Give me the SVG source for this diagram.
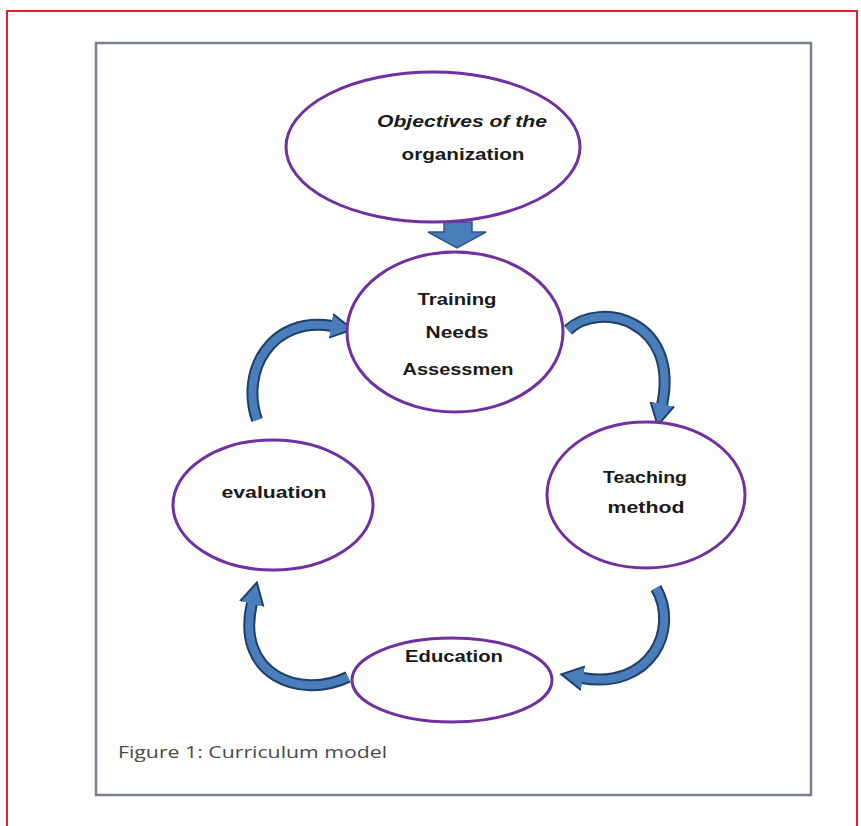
<svg xmlns="http://www.w3.org/2000/svg" width="861" height="826" viewBox="0 0 861 826">
<style>
.node{fill:#ffffff;stroke:#7030a0;stroke-width:3}
.lbl{font-family:"Liberation Sans",Arial,sans-serif;font-weight:bold;font-size:17px;fill:#1a1a1a;text-anchor:middle}
.cap{font-family:"Open Sans","Liberation Sans",sans-serif;font-size:17px;fill:#4a4a4a}
.bandO{fill:none;stroke:#1f3e6b;stroke-width:12}
.bandI{fill:none;stroke:#4a7ebb;stroke-width:8;marker-end:url(#head)}
</style>
<defs>
<marker id="head" viewBox="0 0 24 26" refX="1" refY="13" markerWidth="24" markerHeight="26" markerUnits="userSpaceOnUse" orient="auto">
<path d="M0,1 L22,13 L0,25 Z" fill="#4a7ebb"/>
<path d="M0,1 L22,13 L0,25" fill="none" stroke="#1f3e6b" stroke-width="2"/>
</marker>
</defs>
<rect x="7" y="11" width="850" height="830" fill="#ffffff" stroke="#e0202a" stroke-width="2"/>
<rect x="96" y="43" width="715" height="752" fill="#ffffff" stroke="#76818d" stroke-width="2.5"/>
<g id="connectors">
<path d="M444,222 L472,222 L472,232 L486,232 L457,248 L428,232 L444,232 Z" fill="#4a7ebb" stroke="#2f5588" stroke-width="1.5"/>
<path class="bandO" d="M257,420 C240,370 272,316 332,326"/>
<path class="bandI" d="M257,420 C240,370 272,316 332,326"/>
<path class="bandO" d="M568,330 C600,300 680,320 662,405"/>
<path class="bandI" d="M568,330 C600,300 680,320 662,405"/>
<path class="bandO" d="M656,588 C680,630 650,690 582,678"/>
<path class="bandI" d="M656,588 C680,630 650,690 582,678"/>
<path class="bandO" d="M348,677 C300,700 235,675 252,603"/>
<path class="bandI" d="M348,677 C300,700 235,675 252,603"/>
</g>
<g id="objectives">
<ellipse class="node" cx="433" cy="147" rx="147" ry="75"/>
<text class="lbl" x="462" y="127" font-style="italic" textLength="170" lengthAdjust="spacingAndGlyphs">Objectives of the</text>
<text class="lbl" x="463" y="160" textLength="123" lengthAdjust="spacingAndGlyphs">organization</text>
</g>
<g id="training">
<ellipse class="node" cx="455" cy="332" rx="108" ry="80"/>
<text class="lbl" x="457" y="305" textLength="79" lengthAdjust="spacingAndGlyphs">Training</text>
<text class="lbl" x="457" y="338" textLength="63" lengthAdjust="spacingAndGlyphs">Needs</text>
<text class="lbl" x="458" y="375" textLength="111" lengthAdjust="spacingAndGlyphs">Assessmen</text>
</g>
<g id="teaching">
<ellipse class="node" cx="646" cy="495" rx="99" ry="73"/>
<text class="lbl" x="645" y="483" textLength="84" lengthAdjust="spacingAndGlyphs">Teaching</text>
<text class="lbl" x="646" y="513" textLength="77" lengthAdjust="spacingAndGlyphs">method</text>
</g>
<g id="evaluation">
<ellipse class="node" cx="273" cy="505" rx="100" ry="65"/>
<text class="lbl" x="274" y="498" textLength="105" lengthAdjust="spacingAndGlyphs">evaluation</text>
</g>
<g id="education">
<ellipse class="node" cx="452" cy="680" rx="100" ry="42"/>
<text class="lbl" x="454" y="662" textLength="98" lengthAdjust="spacingAndGlyphs">Education</text>
</g>
<text class="cap" x="118" y="758" textLength="269" lengthAdjust="spacingAndGlyphs">Figure 1: Curriculum model</text>
</svg>
